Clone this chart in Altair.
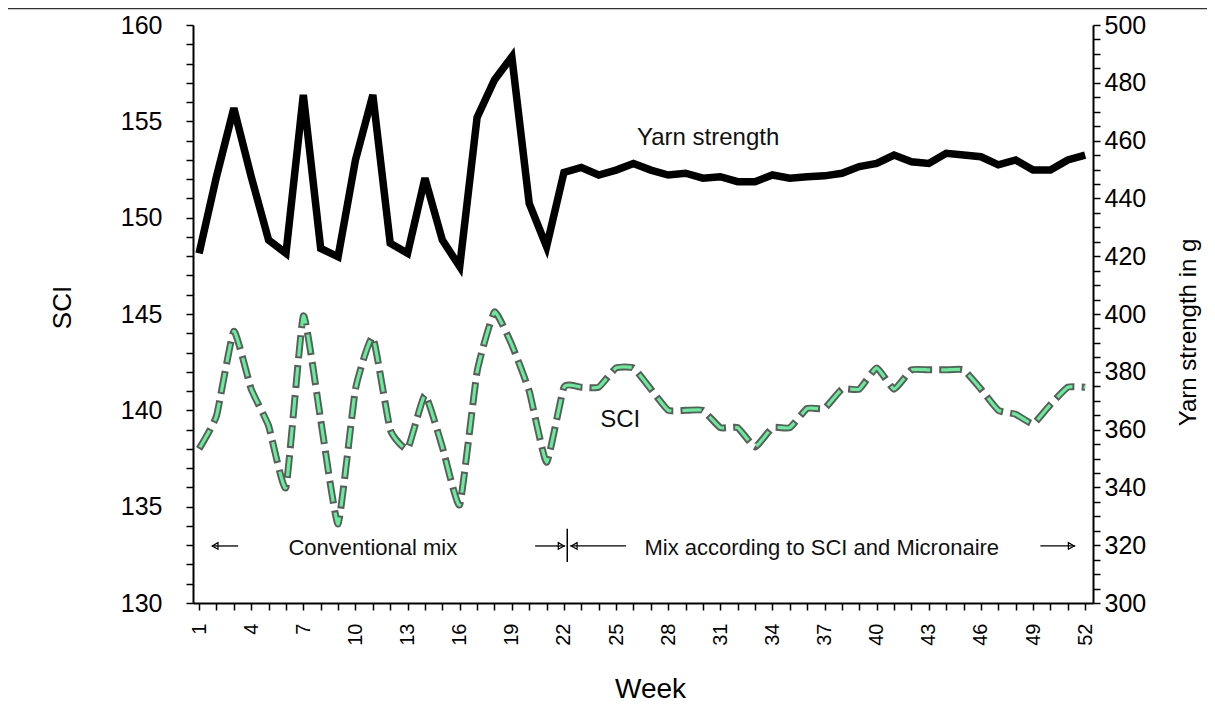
import altair as alt
import pandas as pd

# ---------------- data ----------------
weeks = list(range(1, 53))
sci = [138.0, 139.7, 144.1, 141.1, 139.2, 136.0, 144.9, 139.5, 134.1, 141.1,
       143.8, 139.0, 138.0, 140.8, 138.1, 135.1, 142.0, 145.1, 143.4, 141.0,
       137.3, 141.2, 141.2, 141.2, 142.2, 142.2, 141.1, 140.0, 140.0, 140.0,
       139.1, 139.1, 138.1, 139.1, 139.1, 140.1, 140.1, 141.1, 141.1, 142.2,
       141.1, 142.1, 142.1, 142.1, 142.1, 141.1, 140.0, 139.8, 139.3, 140.3,
       141.2, 141.2]
yarn = [421.0, 447.5, 471.2, 447.5, 425.6, 421.0, 475.8, 422.7, 419.8, 453.3,
        475.8, 424.5, 421.0, 447.0, 425.6, 416.4, 468.0, 481.0, 489.0, 438.3,
        423.3, 449.0, 450.7, 448.1, 449.8, 452.1, 449.8, 448.1, 448.7, 447.0,
        447.5, 445.8, 445.8, 448.1, 447.0, 447.5, 447.8, 448.7, 451.0, 452.1,
        455.0, 452.7, 452.1, 455.6, 455.0, 454.4, 451.6, 453.3, 449.8, 449.8,
        453.3, 455.0]
week_labels = [1, 4, 7, 10, 13, 16, 19, 22, 25, 28, 31, 34, 37, 40, 43, 46, 49, 52]
sci_ticks = list(range(130, 161))
yarn_ticks = list(range(300, 501, 5))

# annotation texts
ann_texts = ["Conventional mix", "Mix according to SCI and Micronaire"]
ann_weeks = [11.0, 36.84]
ann_level = [132.86, 132.86]

# arrows (shafts) in week / SCI units
arrow_x = [1.75, 20.34, 22.36, 49.42]
arrow_x2 = [3.25, 22.07, 25.58, 51.43]
arrow_y = [132.96, 132.96, 132.96, 132.96]
head_x = [1.92, 21.84, 22.59, 51.20]
head_shape = ["triangle-left", "triangle-right", "triangle-left", "triangle-right"]
divider_week = [22.19]
divider_lo = [132.13]
divider_hi = [133.85]

FONT = "Liberation Sans"

df = pd.DataFrame({"week": weeks, "SCI": sci, "Yarn": yarn})
ann_df = pd.DataFrame({"week": ann_weeks, "SCI": ann_level, "text": ann_texts})
arrow_df = pd.DataFrame({"week": arrow_x, "week2": arrow_x2, "SCI": arrow_y})
head_df = pd.DataFrame({"week": head_x, "SCI": arrow_y, "shape": head_shape})
div_df = pd.DataFrame({"week": divider_week, "SCI": divider_lo, "SCI2": divider_hi})
sci_lbl_df = pd.DataFrame({"week": [25.24], "SCI": [139.5], "text": ["SCI"]})
yarn_lbl_df = pd.DataFrame({"week": [30.3], "Yarn": [460.9], "text": ["Yarn strength"]})

# ---------------- scales / axes ----------------
xscale = alt.Scale(domain=[0.65, 52.45], nice=False, zero=False)
xaxis = alt.Axis(
    values=weeks,
    labelExpr=f"indexof({week_labels}, datum.value) >= 0 ? datum.label : ''",
    labelAngle=270, labelFontSize=20, labelPadding=13, labelFont=FONT,
    labelColor="black", labelFlush=False, labelOverlap=False,
    tickSize=7, tickColor="black", tickWidth=1.5,
    domainColor="black", domainWidth=2, grid=False,
    title="Week", titleFont=FONT, titleFontSize=28, titleFontWeight="normal",
    titleColor="black", titleX=457, titleY=86, titleBaseline="middle", titleAlign="center",
)
sci_scale = alt.Scale(domain=[130, 160], nice=False, zero=False)
sci_axis = alt.Axis(
    orient="left", values=sci_ticks,
    labelExpr="datum.value % 5 == 0 ? datum.label : ''",
    labelFontSize=25, labelPadding=24, labelFont=FONT, labelColor="black",
    labelFlush=False, labelOverlap=False,
    tickSize=7, tickColor="black", tickWidth=1.5,
    domainColor="black", domainWidth=2, grid=False,
    title="SCI", titleFont=FONT, titleFontSize=26, titleFontWeight="normal",
    titleColor="black", titleAngle=270, titleX=-131, titleY=282,
    titleBaseline="middle", titleAlign="center",
)
yarn_scale = alt.Scale(domain=[300, 500], nice=False, zero=False)
yarn_axis = alt.Axis(
    orient="right", values=yarn_ticks,
    labelExpr="datum.value % 20 == 0 ? datum.label : ''",
    labelFontSize=25, labelPadding=4, labelFont=FONT, labelColor="black",
    labelFlush=False, labelOverlap=False,
    tickSize=7, tickColor="black", tickWidth=1.5,
    domainColor="black", domainWidth=2, grid=False,
    title="Yarn strength in g", titleFont=FONT, titleFontSize=24, titleFontWeight="normal",
    titleColor="black", titleAngle=270, titleX=95, titleY=307,
    titleBaseline="middle", titleAlign="center",
)


def X():
    return alt.X("week:Q", scale=xscale, axis=xaxis)


def YS(field="SCI"):
    return alt.Y(f"{field}:Q", scale=sci_scale, axis=sci_axis)


def YY():
    return alt.Y("Yarn:Q", scale=yarn_scale, axis=yarn_axis)


# ---------------- SCI group ----------------
sci_base = alt.Chart(df).encode(x=X(), y=YS())
sci_outline = sci_base.mark_line(interpolate="cardinal", tension=0.6, color="#5c5c5c",
                                 strokeWidth=7, strokeDash=[23, 7], strokeCap="butt")
sci_fill = sci_base.mark_line(interpolate="cardinal", tension=0.6, color="#63ee98",
                              strokeWidth=3.2, strokeDash=[19, 11], strokeDashOffset=-2,
                              strokeCap="butt")

sci_label = alt.Chart(sci_lbl_df).mark_text(font=FONT, fontSize=24, color="#111",
                                            align="center", baseline="middle").encode(
    x=X(), y=YS(), text="text:N")

ann = alt.Chart(ann_df).mark_text(font=FONT, fontSize=22, color="#111",
                                  align="center", baseline="middle").encode(
    x=X(), y=YS(), text="text:N")

shafts = alt.Chart(arrow_df).mark_rule(color="black", strokeWidth=1.3).encode(
    x=X(), x2="week2:Q", y=YS())

heads = alt.Chart(head_df).mark_point(filled=False, color="black", size=45, strokeWidth=1.2,
                                      opacity=1).encode(
    x=X(), y=YS(), shape=alt.Shape("shape:N", scale=None))

divider = alt.Chart(div_df).mark_rule(color="black", strokeWidth=1.5).encode(
    x=X(), y=YS(), y2="SCI2:Q")

top_rule = alt.Chart(pd.DataFrame({"a": [0]})).mark_rule(color="#333", strokeWidth=1.5).encode(
    x=alt.value(-185), x2=alt.value(1014), y=alt.value(-16.5))

sci_group = alt.layer(sci_outline, sci_fill, sci_label, ann, shafts, heads, divider, top_rule)

# ---------------- Yarn group ----------------
yarn_line = alt.Chart(df).mark_line(color="black", strokeWidth=7.5).encode(x=X(), y=YY())
yarn_label = alt.Chart(yarn_lbl_df).mark_text(font=FONT, fontSize=24, color="#111",
                                              align="center", baseline="middle").encode(
    x=X(), y=YY(), text="text:N")
yarn_group = alt.layer(yarn_line, yarn_label)

chart = alt.layer(sci_group, yarn_group).resolve_scale(y="independent").properties(
    width=900, height=578,
    autosize=alt.AutoSizeParams(type="none"),
    padding={"left": 185, "top": 17, "right": 114, "bottom": 103},
    background="white",
).configure_view(strokeWidth=0)

chart.save("out.html", embed_options={"renderer": "svg", "actions": False})
